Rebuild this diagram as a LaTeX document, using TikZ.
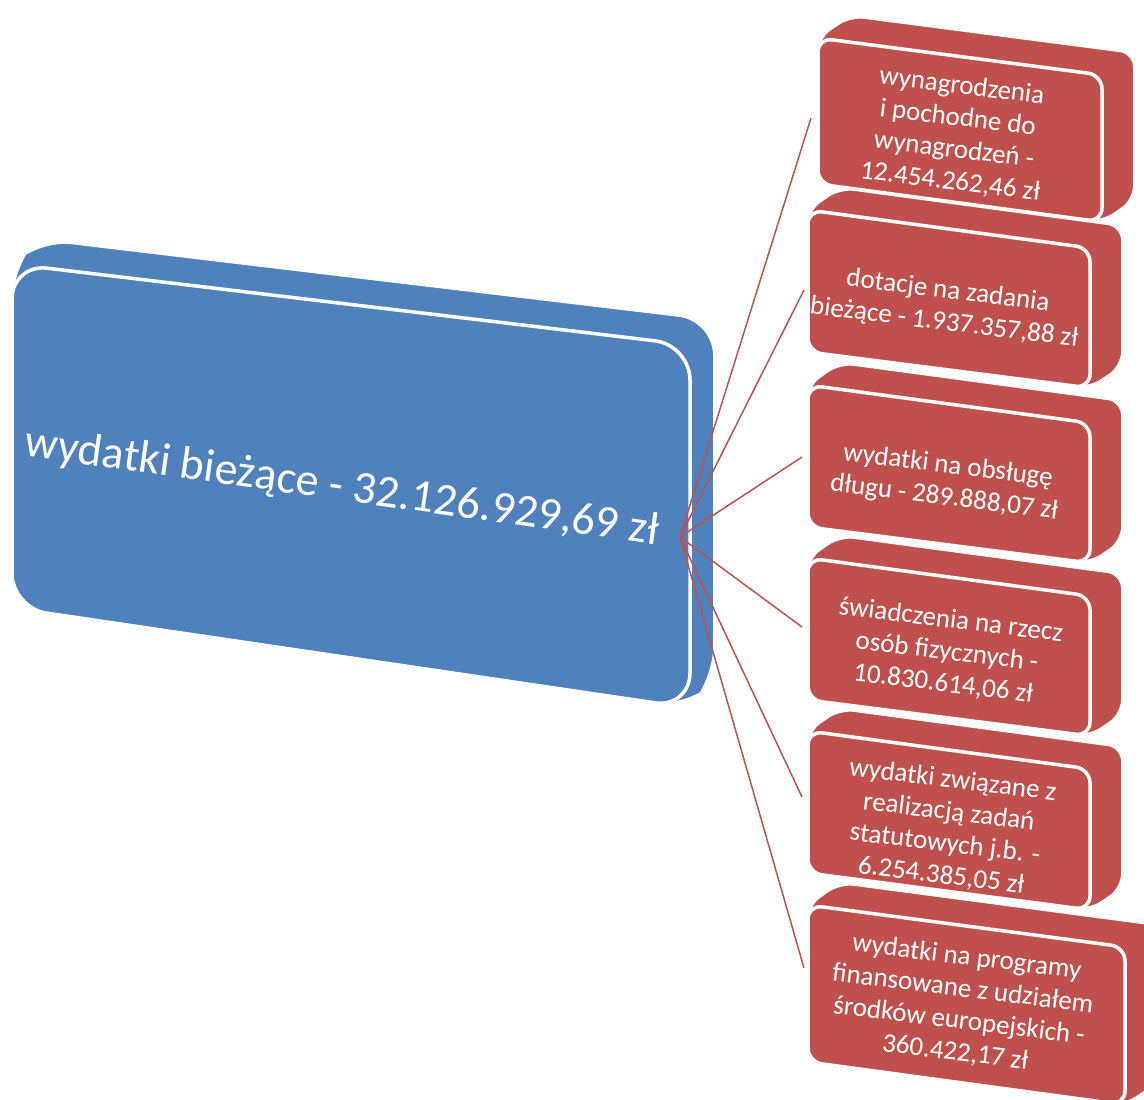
\documentclass[tikz,border=0pt]{standalone}
\usepackage{fontspec}
\setmainfont{Carlito}
\usetikzlibrary{calc}
\definecolor{blu}{HTML}{4F81BD}
\definecolor{rd}{HTML}{C0504D}
\tikzset{
  rtext/.style={text=white, align=center, font=\fontsize{27}{32}\selectfont, inner sep=0pt, rotate=-7},
  btext/.style={text=white, align=center, font=\fontsize{46}{52}\selectfont, inner sep=0pt, rotate=-8},
  conn/.style={draw=rd, line width=1.5pt},
}
% #1 colour, #2 radius, #3 dx, #4 dy, #5 TL, #6 TR, #7 BR, #8 BL
\newcommand\slabshape[8]{%
  \path[fill=#1, draw=white, line width=2pt, rounded corners=#2]
    #5 -- ($#5+(#3,#4)$) -- ($#6+(#3,#4)$) -- ($#7+(#3,#4)$) -- #7 -- #8 -- cycle;
  \path[fill=#1, draw=white, line width=3.5pt, rounded corners=#2]
    #5 -- #6 -- #7 -- #8 -- cycle;
}
\begin{document}
\begin{tikzpicture}[x=1pt,y=-1pt]
\useasboundingbox (0,0) rectangle (1144,1100);
\clip (0,0) rectangle (1144,1100);
% main box
\slabshape{blu}{35pt}{24}{-25}{(12,264)}{(690,345)}{(690,708)}{(12,608)}
\node[btext] (main) at (342,488) {wydatki bieżące - 32.126.929,69 zł};
% red boxes
\slabshape{rd}{14pt}{32}{-22}{(818,38)}{(1102,75)}{(1102,222)}{(818,184)}
\node[rtext] (c1) at (956,134) {wynagrodzenia\\i pochodne do\\wynagrodzeń -\\12.454.262,46 zł};
\slabshape{rd}{14pt}{32}{-22}{(808,210)}{(1090,248)}{(1090,388)}{(808,352)}
\node[rtext] (c2) at (946,307) {dotacje na zadania\\bieżące - 1.937.357,88 zł};
\slabshape{rd}{14pt}{32}{-22}{(808,385)}{(1090,423)}{(1090,563)}{(808,527)}
\node[rtext] (c3) at (946,482) {wydatki na obsługę\\długu - 289.888,07 zł};
\slabshape{rd}{14pt}{32}{-22}{(808,558)}{(1090,596)}{(1090,736)}{(808,700)}
\node[rtext] (c4) at (947,652) {świadczenia na rzecz\\osób fizycznych -\\10.830.614,06 zł};
\slabshape{rd}{14pt}{32}{-22}{(808,731)}{(1090,769)}{(1090,910)}{(808,873)}
\node[rtext] (c5) at (947,828) {wydatki związane z\\realizacją zadań\\statutowych j.b. -\\6.254.385,05 zł};
\slabshape{rd}{14pt}{32}{-22}{(808,905)}{(1125,947)}{(1125,1105)}{(808,1062)}
\node[rtext] (c6) at (961,1005) {wydatki na programy\\finansowane z udziałem\\środków europejskich -\\360.422,17 zł};
% connectors
\coordinate (hub) at (680,537);
\coordinate (e1) at (811,118);
\coordinate (e2) at (804,290);
\coordinate (e3) at (802,457);
\coordinate (e4) at (802,627);
\coordinate (e5) at (802,797);
\coordinate (e6) at (804,968);
\foreach \i in {1,...,6} { \draw[conn] (hub) -- (e\i); }
\end{tikzpicture}
\end{document}
